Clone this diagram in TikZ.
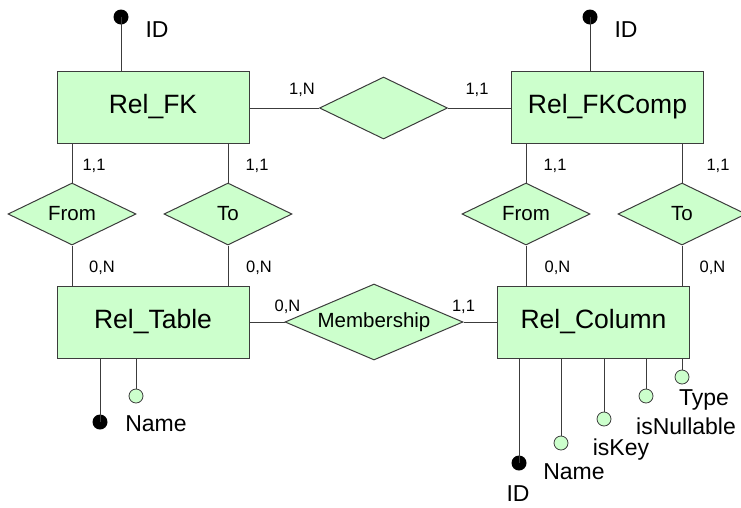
\documentclass[tikz,border=0pt]{standalone}
\usepackage{fontspec}
\setmainfont{Liberation Sans}
\usetikzlibrary{shapes.geometric}
\definecolor{erfill}{RGB}{204,255,204}
\definecolor{erline}{RGB}{60,60,60}
\tikzset{
  entity/.style={draw=erline, fill=erfill, line width=1pt, rectangle, inner sep=0pt,
    minimum width=192pt, minimum height=72pt, font=\fontsize{26.5}{30}\selectfont},
  relation/.style={draw=erline, fill=erfill, line width=1pt, diamond, aspect=2.06, inner sep=0pt,
    minimum width=128pt, minimum height=62pt, font=\fontsize{20.5}{24}\selectfont},
  keydot/.style={circle, fill=black, inner sep=0pt, minimum size=15pt},
  attrdot/.style={circle, draw=erline, fill=erfill, line width=0.8pt, inner sep=0pt, minimum size=14pt},
  card/.style={inner sep=0pt, font=\fontsize{16.5}{19}\selectfont},
  attrlabel/.style={inner sep=0pt, font=\fontsize{23}{26}\selectfont},
  link/.style={draw=erline, line width=1pt}
}
\begin{document}
\begin{tikzpicture}[x=1pt, y=-1pt]
\useasboundingbox (0,0) rectangle (741,507);
\clip (0,0) rectangle (741,507);

% entities
\node[entity] (fk)    at (153,107)   {Rel\_FK};
\node[entity] (fkc)   at (607.5,107) {Rel\_FKComp};
\node[entity] (tab)   at (153,322)   {Rel\_Table};
\node[entity] (col)   at (593.5,322) {Rel\_Column};

% relationships
\node[relation] (comp)  at (383.5,108) {};
\node[relation] (fromL) at (72,214)  {From};
\node[relation] (toL)   at (228,214) {To};
\node[relation] (fromR) at (526,214) {From};
\node[relation] (toR)   at (682,214) {To};
\node[relation, aspect=2.34, minimum width=178pt, minimum height=76pt] (memb) at (374,322) {Membership};

% entity--relationship links
\path[link] (fk.east |- comp.west) -- (comp.west);
\path[link] (comp.east) -- (fkc.west |- comp.east);
\path[link] (fromL.north) -- (fromL.north |- fk.south);
\path[link] (toL.north) -- (toL.north |- fk.south);
\path[link] (fromL.south) -- (fromL.south |- tab.north);
\path[link] (toL.south) -- (toL.south |- tab.north);
\path[link] (fromR.north) -- (fromR.north |- fkc.south);
\path[link] (toR.north) -- (toR.north |- fkc.south);
\path[link] (fromR.south) -- (fromR.south |- col.north);
\path[link] (toR.south) -- (toR.south |- col.north);
\path[link] (tab.east |- memb.west) -- (memb.west);
\path[link] (memb.east) -- (col.west |- memb.east);

% cardinalities
\node[card] (c1) at (302,90)   {1,N};
\node[card] (c2) at (477,90)   {1,1};
\node[card] (c3) at (94,166)   {1,1};
\node[card] (c4) at (257,166)  {1,1};
\node[card] (c5) at (555,166)  {1,1};
\node[card] (c6) at (718,166)  {1,1};
\node[card] (c7) at (102,268)  {0,N};
\node[card] (c8) at (259,268)  {0,N};
\node[card] (c9) at (557.5,268) {0,N};
\node[card] (c10) at (712.5,268) {0,N};
\node[card] (c11) at (287.5,307) {0,N};
\node[card] (c12) at (463.5,307) {1,1};

% identifiers of the upper entities
\node[keydot] (fkid)  at (121,17) {};
\node[keydot] (fkcid) at (590,17) {};
\path[link] (fkid.center) -- (fkid.center |- fk.north);
\path[link] (fkcid.center) -- (fkcid.center |- fkc.north);
\node[attrlabel] (fkidl)  at (157,30) {ID};
\node[attrlabel] (fkcidl) at (626,30) {ID};

% Rel_Table attributes
\node[keydot] (tabid) at (100,422) {};
\node[attrdot] (tabname) at (136,396) {};
\path[link] (tabid.center) -- (tabid.center |- tab.south);
\path[link] (tabname.north) -- (tabname.north |- tab.south);
\node[attrlabel] (tabnamel) at (156,424) {Name};

% Rel_Column attributes
\node[keydot] (colid) at (519,463) {};
\node[attrdot] (colname) at (561,443) {};
\node[attrdot] (colkey) at (604,419) {};
\node[attrdot] (colnull) at (646,396) {};
\node[attrdot] (coltype) at (682,377) {};
\path[link] (colid.center) -- (colid.center |- col.south);
\path[link] (colname.north) -- (colname.north |- col.south);
\path[link] (colkey.north) -- (colkey.north |- col.south);
\path[link] (colnull.north) -- (colnull.north |- col.south);
\path[link] (coltype.north) -- (coltype.north |- col.south);
\node[attrlabel] (coltypel) at (704,400) {Type};
\node[attrlabel] (colnulll) at (686,426) {isNullable};
\node[attrlabel] (colkeyl) at (621,450) {isKey};
\node[attrlabel] (colnamel) at (574,472) {Name};
\node[attrlabel] (colidl) at (518,494) {ID};
\end{tikzpicture}
\end{document}
